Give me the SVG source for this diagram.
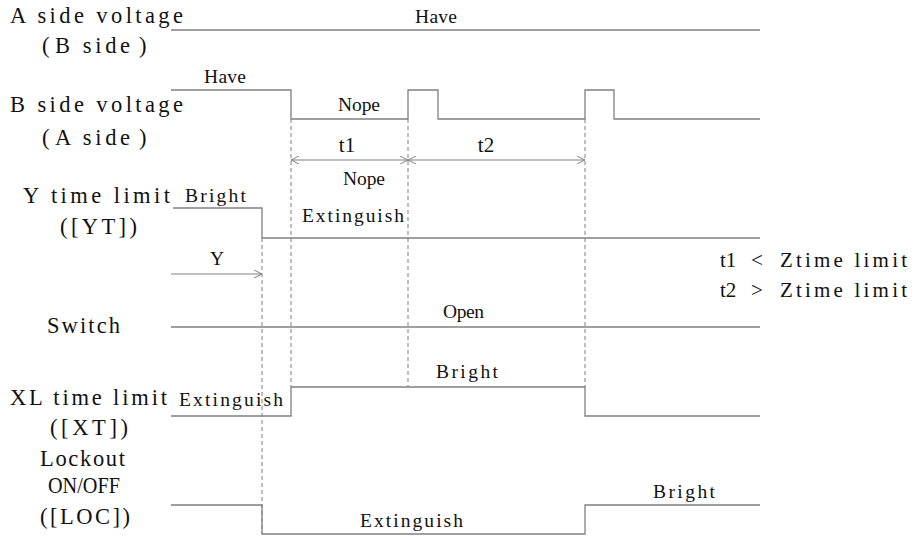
<svg xmlns="http://www.w3.org/2000/svg" width="920" height="537" viewBox="0 0 920 537">
<style>
text{font-family:"Liberation Serif","DejaVu Serif",serif;fill:#111}
.lb{font-size:22.5px}
.sm{font-size:19.5px}
.md{font-size:21px}
.w{fill:none;stroke:#808080;stroke-width:1.3}
.d{fill:none;stroke:#808080;stroke-width:1;stroke-dasharray:4 3}
.a{fill:none;stroke:#808080;stroke-width:1}
</style>
<defs>
<marker id="ah" viewBox="0 0 10 10" refX="10" refY="5" markerWidth="8" markerHeight="8" markerUnits="userSpaceOnUse" orient="auto-start-reverse">
<path d="M0,0 L10,5 L0,10" fill="none" stroke="#808080" stroke-width="1.2"/>
</marker>
</defs>
<rect width="920" height="537" fill="#fff"/>
<g id="rowA">
<text class="lb" x="10" y="23" textLength="173" lengthAdjust="spacing">A side voltage</text>
<text class="lb" y="53"><tspan x="42">(</tspan><tspan x="55" textLength="75" lengthAdjust="spacing">B side</tspan><tspan x="139">)</tspan></text>
<text class="sm" x="415" y="23" textLength="42" lengthAdjust="spacing">Have</text>
<path class="w" d="M171,30 H760"/>
</g>
<g id="rowB">
<text class="sm" x="204" y="83" textLength="42" lengthAdjust="spacing">Have</text>
<text class="lb" x="10" y="112" textLength="173" lengthAdjust="spacing">B side voltage</text>
<text class="lb" y="145"><tspan x="42">(</tspan><tspan x="55" textLength="75" lengthAdjust="spacing">A side</tspan><tspan x="139">)</tspan></text>
<text class="sm" x="338" y="111" textLength="42" lengthAdjust="spacing">Nope</text>
<path class="w" d="M171,90 H291 V119 H408 V90 H438 V119 H585 V90 H614 V119 H760"/>
</g>
<g id="timing">
<text class="md" x="347" y="152" text-anchor="middle">t1</text>
<text class="md" x="486" y="152" text-anchor="middle">t2</text>
<text class="sm" x="343" y="185" textLength="42" lengthAdjust="spacing">Nope</text>
</g>
<g id="rowY">
<text class="lb" x="23" y="203" textLength="147" lengthAdjust="spacing">Y time limit</text>
<text class="sm" x="185" y="202" textLength="61" lengthAdjust="spacing">Bright</text>
<text class="lb" x="60" y="234" textLength="77" lengthAdjust="spacing">([YT])</text>
<text class="sm" x="302" y="222" textLength="102" lengthAdjust="spacing">Extinguish</text>
<text class="sm" x="217" y="265" text-anchor="middle">Y</text>
<path class="w" d="M173,208 H262 V238 H760"/>
</g>
<g id="note">
<text class="md" y="267"><tspan x="720">t1</tspan><tspan x="751">&lt;</tspan><tspan x="780" textLength="127" lengthAdjust="spacing">Ztime limit</tspan></text>
<text class="md" y="297"><tspan x="720">t2</tspan><tspan x="751">&gt;</tspan><tspan x="780" textLength="127" lengthAdjust="spacing">Ztime limit</tspan></text>
</g>
<g id="rowSwitch">
<text class="lb" x="47" y="333" textLength="73" lengthAdjust="spacing">Switch</text>
<text class="sm" x="443" y="318" textLength="41" lengthAdjust="spacing">Open</text>
<path class="w" d="M171,327 H760"/>
</g>
<g id="rowXL">
<text class="lb" x="10" y="405" textLength="157" lengthAdjust="spacing">XL time limit</text>
<text class="sm" x="179" y="406" textLength="104" lengthAdjust="spacing">Extinguish</text>
<text class="lb" x="50" y="435" textLength="78" lengthAdjust="spacing">([XT])</text>
<text class="sm" x="436" y="378" textLength="62" lengthAdjust="spacing">Bright</text>
<path class="w" d="M171,416 H291 V387 H585 V416 H760"/>
</g>
<g id="rowLOC">
<text class="lb" x="40" y="466" textLength="85" lengthAdjust="spacing">Lockout</text>
<text class="lb" x="48" y="493" textLength="72" lengthAdjust="spacingAndGlyphs">ON/OFF</text>
<text class="lb" x="40" y="524" textLength="90" lengthAdjust="spacing">([LOC])</text>
<text class="sm" x="360" y="527" textLength="103" lengthAdjust="spacing">Extinguish</text>
<text class="sm" x="653" y="498" textLength="62" lengthAdjust="spacing">Bright</text>
<path class="w" d="M171,505 H262 V534 H585 V505 H760"/>
</g>
<g id="connectors">
<path class="d" d="M262,238 V534"/>
<path class="d" d="M291,119 V387"/>
<path class="d" d="M408,119 V387"/>
<path class="d" d="M585,119 V387"/>
<path class="a" d="M291,160 H408" marker-start="url(#ah)" marker-end="url(#ah)"/>
<path class="a" d="M408,160 H585" marker-start="url(#ah)" marker-end="url(#ah)"/>
<path class="a" d="M171,274 H262" marker-end="url(#ah)"/>
</g>
</svg>
